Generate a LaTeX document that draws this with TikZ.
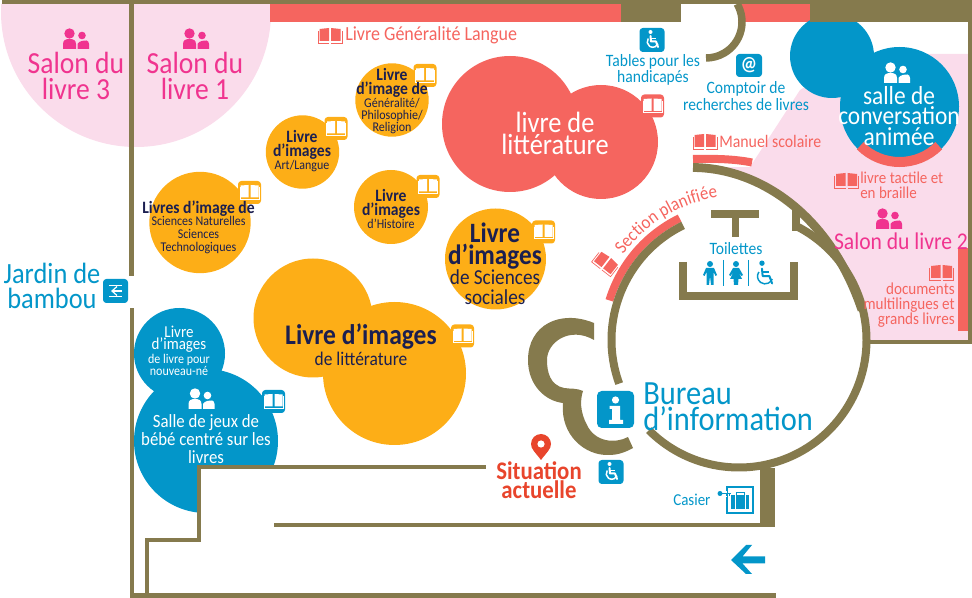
\documentclass[tikz,border=0pt]{standalone}
\usepackage{fontspec}
\setmainfont{Carlito}[FakeStretch=0.9]
\usetikzlibrary{decorations.text}
\definecolor{wall}{HTML}{857A4D}
\definecolor{coral}{HTML}{F5655F}
\definecolor{amber}{HTML}{FDAE17}
\definecolor{sea}{HTML}{0396C9}
\definecolor{blush}{HTML}{FADCEB}
\definecolor{rose}{HTML}{F0348F}
\definecolor{navy}{HTML}{1B1F50}
\definecolor{alert}{HTML}{E8452C}
\newcommand{\fs}[2]{\fontsize{#1}{#2}\selectfont}
\newcommand{\sm}{\fs{10}{9}\mdseries}
\tikzset{
    lab/.style={inner sep=0pt,align=center},
    wallline/.style={draw=wall,line width=6pt},
    thinwall/.style={draw=wall,line width=3.4pt},
    pics/openbook/.style={code={
        \fill[#1] (-10.5,-6) -- (-1,-7) -- (-1,6) -- (-10.5,6) -- cycle;
        \fill[#1] (10.5,-6) -- (1,-7) -- (1,6) -- (10.5,6) -- cycle;
        \draw[#1,line width=.5pt] (-12,-4) -- (-12,8) -- (-1,8) (12,-4) -- (12,8) -- (1,8);
    }},
    pics/bookbadge/.style={code={
        \fill[#1,rounded corners=2.5pt] (-11.5,-11.5) rectangle (11.5,11.5);
        \fill[white] (-9,-7) -- (-1,-7.5) -- (-1,5) -- (-9,5) -- cycle;
        \fill[white] (9,-7) -- (1,-7.5) -- (1,5) -- (9,5) -- cycle;
        \draw[white,line width=.5pt] (-9.5,-5) -- (-9.5,6.5) -- (9.5,6.5) -- (9.5,-5);
    }},
    pics/people/.style={code={
        \fill[#1] (-6.5,-5.5) circle (5.2);
        \fill[#1] (6,-3.5) circle (3.8);
        \fill[#1] (-13,10) -- (-13,5) .. controls (-13,1) and (-10,0) .. (-6.5,0) .. controls (-3,0) and (0,1) .. (0,5) -- (0,10) -- cycle;
        \fill[#1] (1.5,10) -- (1.5,5) .. controls (3,1.5) and (9,1.5) .. (10.5,1.5) .. controls (12,2) and (13,3) .. (13,5) -- (13,10) -- cycle;
    }},
    pics/wheelchair/.style={code={
        \fill[#1] (-1.5,-8) circle (2);
        \draw[#1,line width=1.5pt,line cap=round,line join=round] (-1.5,-4) -- (-1,1.5) -- (4,1.5) -- (6,7);
        \draw[#1,line width=1.1pt] (-1.5,-1.5) -- (3.5,-1.5);
        \draw[#1,line width=1.1pt] (-3.8,-1.5) arc[start angle=215,end angle=20,radius=5.6];
    }},
    pics/manfig/.style={code={
        \fill[#1] (0,-9) circle (3);
        \fill[#1] (-7,2) -- (-4,-5) -- (4,-5) -- (7,2) -- (5.5,3) -- (3.5,-1) -- (3.5,12) -- (1,12) -- (0,3) -- (-1,12) -- (-3.5,12) -- (-3.5,-1) -- (-5.5,3) -- cycle;
    }},
    pics/womanfig/.style={code={
        \fill[#1] (0,-9) circle (3);
        \fill[#1] (-7,2) -- (-3,-5) -- (3,-5) -- (7,2) -- (5.5,3) -- (2.5,-1) -- (6,6) -- (2.5,6) -- (2,12) -- (-2,12) -- (-2.5,6) -- (-6,6) -- (-2.5,-1) -- (-5.5,3) -- cycle;
    }}
}
\begin{document}
\begin{tikzpicture}[x=.75pt,y=-.75pt]
    \useasboundingbox (0,0) rectangle (972,598);
    % pink rooms
    \fill[blush] (1,4) -- (271,4) -- (271,12) arc[start angle=0,end angle=180,radius=135] -- cycle;
    \fill[blush] (693,167.5) .. controls (760,168) and (830,215) .. (862,310) -- (870,340) -- (968,340) -- (968,54) -- (860,54) -- (800,90) -- (750,167) -- cycle;
    % shelves
    \fill[coral] (270,4) rectangle (621,22);
    \fill[coral] (738,4) rectangle (810,22);
    \fill[coral] (958,248) rectangle (968,331);
    \draw[coral,line width=6pt] (693,159) .. controls (715,158.5) and (735,159) .. (752,162.5);
    \draw[coral,line width=6pt] (739,340) ++(197:135.5) arc[start angle=197,end angle=244,radius=135.5];
    % circles
    \foreach \x/\y/\r in {510/124/68,601/142/57}
        \fill[coral] (\x,\y) circle (\r);
    \foreach \x/\y/\r in {392/100/36.7,302.5/152/36.7,200/222.5/50.7,391/207/37,495.5/259/50.5,313/318/59.5,394.5/373.5/71.5}
        \fill[amber] (\x,\y) circle (\r);
    \foreach \x/\y/\r in {179.5/353.5/45.5,206/441/72,832/56/42,899.5/106.5/59.5}
        \fill[sea] (\x,\y) circle (\r);
    \fill[white] (199,467) rectangle (300,530);
    \draw[coral,line width=7.5pt] (899.5,106.5) ++(45:55.5) arc[start angle=45,end angle=135,radius=55.5];
    % walls
    \fill[wall] (2,0) rectangle (972,4);
    \fill[wall] (810,0) rectangle (972,22);
    \fill[wall] (621,4) rectangle (681,22);
    \fill[wall] (968,0) rectangle (972,344);
    \fill[wall] (868,340) rectangle (972,344);
    \fill[wall] (129,0) rectangle (134,276);
    \fill[wall] (129.5,308) rectangle (134,598);
    \fill[wall] (130,593) rectangle (776,598);
    \draw[thinwall] (147,593) -- (147,540) -- (199,540) -- (199,467) -- (486,467);
    \draw[thinwall] (274,525) -- (775,525);
    \fill[wall] (760,468) rectangle (775,527);
    \draw[wallline,line width=5.6pt] (706,22) ++(-30:36) arc[start angle=-30,end angle=90,radius=36];
    \draw[wallline,line width=6.6pt] (693,167.5) .. controls (760,168) and (830,215) .. (862,310);
    \draw[wallline] (739,340) ++(244:127.5) arc[start angle=244,end angle=160,radius=127.5];
    \draw[wallline] (739,340) ++(135:127.5) arc[start angle=135,end angle=-64,radius=127.5];
    \fill[wall] (792,210) rectangle (800,231);
    \fill[wall] (711,210) rectangle (759,218);
    \fill[wall] (732,218) rectangle (739,237);
    \draw[wallline] (683,262) -- (683,296) -- (794,296) -- (794,262);
    % crescents by the entrance
    \fill[wall] (594,323) .. controls (560,309) and (528,325) .. (528,360) .. controls (528,385) and (545,401) .. (563,403) .. controls (560,435) and (585,456) .. (609,455) .. controls (618,455) and (626,452) .. (633,448) -- (628,437) .. controls (615,444) and (595,442) .. (587,425) .. controls (580,412) and (580,400) .. (583,391) .. controls (577,388) and (570,389) .. (564,388) .. controls (550,385) and (547,372) .. (547,360) .. controls (547,342) and (570,326) .. (594,340) -- cycle;
    % icons
    \foreach \x/\y/\c in {425/75.5/amber,336/128.5/amber,249.5/192.5/amber,428/186.5/amber,543.5/232/amber,462.5/336/amber,652.5/106/coral,273.5/401.5/sea}
        \pic at (\x,\y) {bookbadge=\c};
    \foreach \x/\y in {330/35,705/141,846.5/180,941.5/272}
        \pic at (\x,\y) {openbook=coral};
    \pic[rotate=-38] at (606,263) {openbook=coral};
    \foreach \x/\y/\c in {76/39/rose,196/39/rose,897/73/white,889/219/rose,201.5/399/white}
        \pic at (\x,\y) {people=\c};
    \foreach \x/\y in {652/40,611/472}
    {
        \fill[sea,rounded corners=2.5pt] (\x-12.5,\y-12) rectangle (\x+12.5,\y+12);
        \pic at (\x,\y) {wheelchair=white};
    }
    \fill[sea,rounded corners=2.5pt] (736,54) rectangle (762,77);
    \node[lab,white,font=\fs{15}{15}\bfseries] (atsign) at (749,65) {@};
    % toilets signs
    \pic at (710,273) {manfig=sea};
    \pic at (736,273) {womanfig=sea};
    \pic[scale=1.35] at (764,274) {wheelchair=sea};
    \draw[sea,line width=.5pt] (723,260) -- (723,286) (748,260) -- (748,286);
    % information sign
    \fill[sea,rounded corners=3.5pt] (597,391) rectangle (634,428);
    \fill[white] (615.5,400) circle (3.6);
    \fill[white] (609.5,406) -- (620,406) -- (620,420) -- (623,420) -- (623,424) -- (609,424) -- (609,420) -- (612,420) -- (612,409) -- (609.5,409) -- cycle;
    % bamboo exit sign
    \fill[sea,rounded corners=2.5pt] (103,279) rectangle (128,303);
    \draw[white,line width=.7pt] (109,285.5) -- (122,285.5) (109,296.5) -- (122,296.5);
    \draw[white,line width=1pt] (122,291) -- (112,291);
    \draw[white,line width=.9pt] (117,286.5) -- (112,291) -- (117,295.5);
    % locker sign
    \draw[sea,line width=.8pt] (727,487) rectangle (753,513);
    \fill[sea] (731,495.5) rectangle (749,509.5);
    \draw[white,line width=.4pt] (735,495.5) -- (735,509.5) (745,495.5) -- (745,509.5);
    \draw[sea,line width=.7pt] (736,495) -- (736,492.5) -- (744,492.5) -- (744,495);
    \fill[white] (717,491) rectangle (727,497);
    \fill[sea] (720,493.5) circle (2.5);
    \draw[sea,line width=1pt] (721,493.5) -- (731,493.5) (727,493.5) -- (727,496) (729.5,493.5) -- (729.5,496);
    % way out arrow
    \fill[sea] (731,560) -- (746,545) -- (752,545) -- (742.5,556.5) -- (765,556.5) -- (765,563.5) -- (742.5,563.5) -- (752,574) -- (746,574) -- cycle;
    % you are here
    \fill[alert] (541,460) .. controls (535,452) and (531,449) .. (531,444) arc[start angle=180,end angle=360,radius=10] .. controls (551,449) and (547,452) .. (541,460) -- cycle;
    \fill[white] (541,444) circle (3.6);
    % salon labels
    \node[lab,rose,font=\fs{23}{20}] (salonC) at (76,76) {Salon du\\livre 3};
    \node[lab,rose,font=\fs{23}{20}] (salonA) at (195,76) {Salon du\\livre 1};
    \node[lab,rose,font=\fs{18}{18}] (salonB) at (901,241) {Salon du livre 2};
    % coral labels
    \node[lab,coral,font=\fs{15}{15},anchor=west] (general) at (345,35) {Livre Généralité Langue};
    \node[lab,coral,font=\fs{13.2}{14},anchor=west] (manuel) at (719,141) {Manuel scolaire};
    \node[lab,coral,font=\fs{12.5}{11.3},align=left,anchor=north west] (tactile) at (860,172) {livre tactile et\\en braille};
    \node[lab,coral,font=\fs{12.6}{11.5},align=right,anchor=east] (multi) at (955,305) {documents\\multilingues et\\grands livres};
    \node[lab,white,font=\fs{22}{15}] (litt) at (555,133) {livre de\\littérature};
    \path[decorate,decoration={text along path,text align=center,text={|\fs{14}{14}\color{coral}|Section planifiée}}] (739,340) ++(212:144) arc[start angle=212,end angle=266,radius=144];
    % amber labels
    \node[lab,navy,font=\fs{13}{9}\bfseries] (imgA) at (392,101) {Livre\\d'image de\\\sm Généralité/\\\sm Philosophie/\\\sm Religion};
    \node[lab,navy,font=\fs{13}{9}\bfseries] (imgB) at (302,151) {Livre\\d'images\\\sm Art/Langue};
    \node[lab,navy,font=\fs{13}{9.5}\bfseries] (imgC) at (198.5,227) {Livres d'image de\\\sm Sciences Naturelles\\\sm Sciences\\\sm Technologiques};
    \node[lab,navy,font=\fs{13}{9}\bfseries] (imgD) at (391,209) {Livre\\d'images\\\sm d'Histoire};
    \node[lab,navy,font=\fs{21}{15}\bfseries] (imgE) at (495,264) {Livre\\d'images\\\fs{16}{12}\mdseries de Sciences\\\fs{16}{12}\mdseries sociales};
    \node[lab,navy,font=\fs{21.3}{16}\bfseries] (imgF) at (361,345) {Livre d'images\\\fs{14.5}{16}\mdseries de littérature};
    % blue labels
    \node[lab,sea,font=\fs{13}{12.5}] (tables) at (653,70) {Tables pour les\\handicapés};
    \node[lab,sea,font=\fs{13}{12.5}] (comptoir) at (746,96) {Comptoir de\\recherches de livres};
    \node[lab,sea,font=\fs{13}{13}] (toilettes) at (736,249) {Toilettes};
    \node[lab,sea,font=\fs{22}{18.5}] (jardin) at (52,286) {Jardin de\\bambou};
    \node[lab,sea,font=\fs{25.4}{19.5},align=left,anchor=west] (bureau) at (643,407) {Bureau\\d'information};
    \node[lab,sea,font=\fs{12.5}{12.5},anchor=west] (casier) at (673,500) {Casier};
    \node[lab,alert,font=\fs{19}{13}\bfseries] (situation) at (539,480) {Situation\\actuelle};
    % white labels
    \node[lab,white,font=\fs{19.5}{15.5}] (salle) at (899,116) {salle de\\conversation\\animée};
    \node[lab,white,font=\fs{12.5}{9}] (baby) at (179,351) {Livre\\d'images\\\fs{10}{9}de livre pour\\\fs{10}{9}nouveau-né};
    \node[lab,white,font=\fs{14}{13.5}] (jeux) at (206,439) {Salle de jeux de\\bébé centré sur les\\livres};
\end{tikzpicture}
\end{document}
